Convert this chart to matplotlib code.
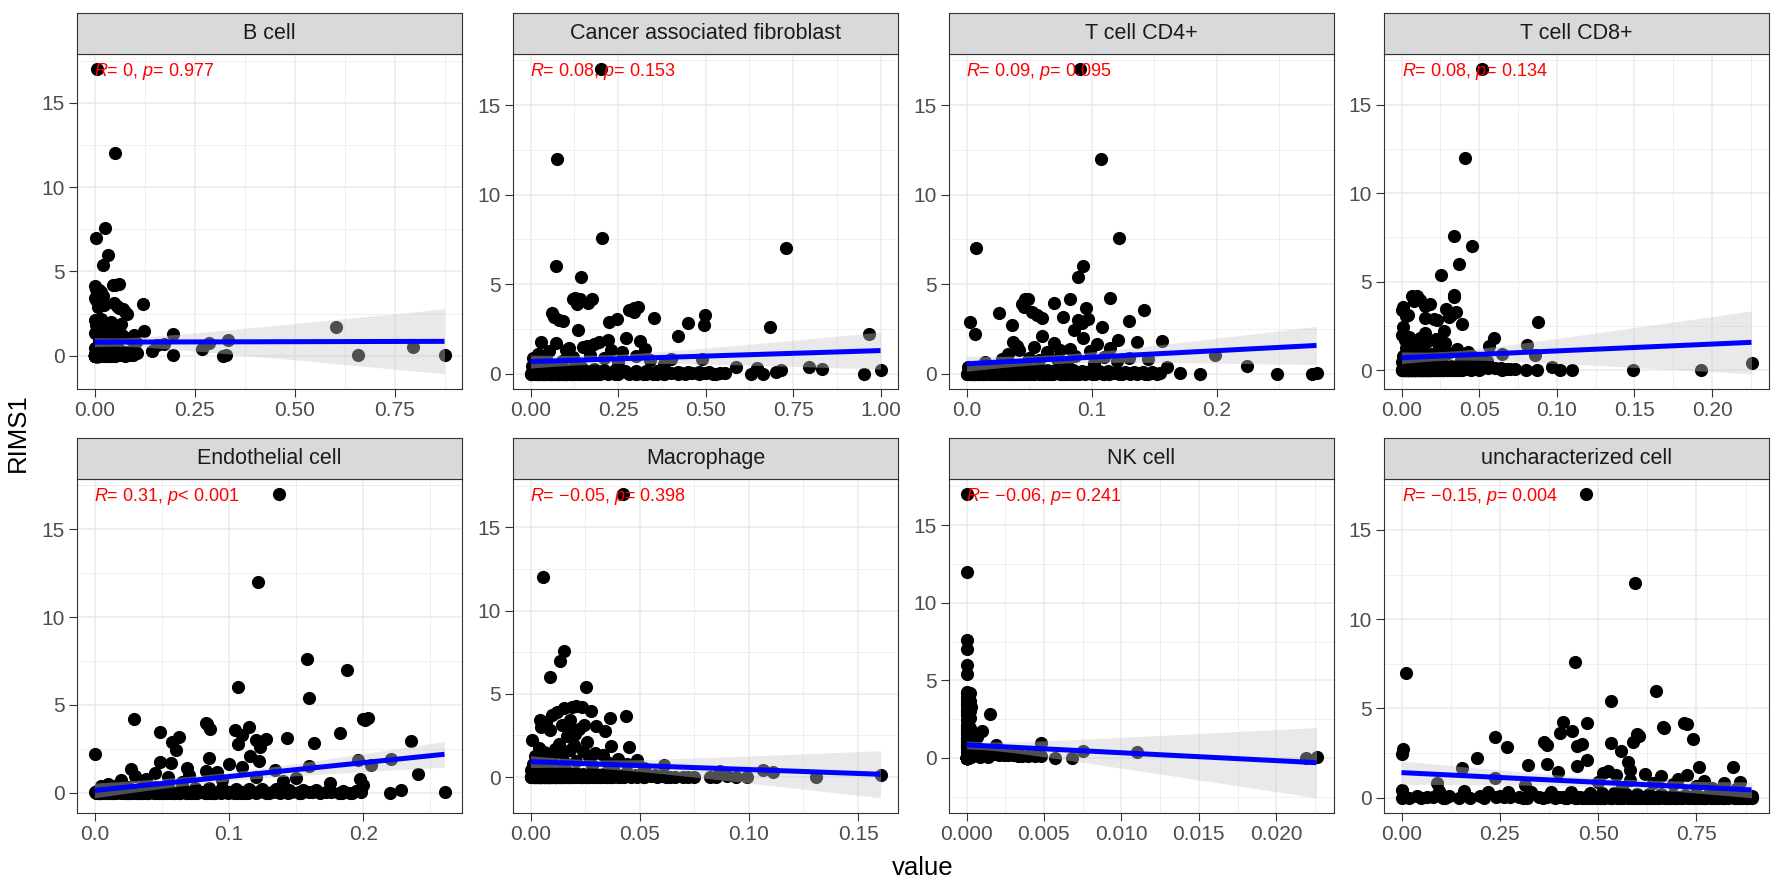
import numpy as np
import matplotlib
matplotlib.use("Agg")
import matplotlib.pyplot as plt
from matplotlib.ticker import FixedLocator, AutoMinorLocator, FixedFormatter

plt.rcParams['font.family'] = ['Liberation Sans', 'DejaVu Sans']
plt.rcParams['mathtext.fontset'] = 'custom'
plt.rcParams['mathtext.rm'] = 'Liberation Sans'
plt.rcParams['mathtext.it'] = 'Liberation Sans:italic'
plt.rcParams['mathtext.bf'] = 'Liberation Sans:bold'

# ---------------- data ----------------
cell_types = ["B cell", "Cancer associated fibroblast", "T cell CD4+", "T cell CD8+",
              "Endothelial cell", "Macrophage", "NK cell", "uncharacterized cell"]
r_labels = ["0", "0.08", "0.09", "0.08", "0.31", "\u22120.05", "\u22120.06", "\u22120.15"]
p_labels = ["= 0.977", "= 0.153", "= 0.095", "= 0.134", "< 0.001", "= 0.398", "= 0.241", "= 0.004"]
x_ticks = [[0, 0.25, 0.5, 0.75], [0, 0.25, 0.5, 0.75, 1.0], [0, 0.1, 0.2],
           [0, 0.05, 0.1, 0.15, 0.2], [0, 0.1, 0.2], [0, 0.05, 0.1, 0.15],
           [0, 0.005, 0.01, 0.015, 0.02], [0, 0.25, 0.5, 0.75]]
x_tick_labels = [["0.00", "0.25", "0.50", "0.75"], ["0.00", "0.25", "0.50", "0.75", "1.00"],
                 ["0.0", "0.1", "0.2"], ["0.00", "0.05", "0.10", "0.15", "0.20"],
                 ["0.0", "0.1", "0.2"], ["0.00", "0.05", "0.10", "0.15"],
                 ["0.000", "0.005", "0.010", "0.015", "0.020"], ["0.00", "0.25", "0.50", "0.75"]]
y_ticks = [0, 5, 10, 15]

# RIMS1 expression of each sample (same samples in every panel)
rims1 = [
    17.0, 12.0, 7.6, 7.0, 6.0, 5.4,
    4.25, 4.2, 4.2, 4.15, 3.95, 3.9, 3.75, 3.65, 3.55, 3.45, 3.4, 3.3,
    3.15, 3.1, 3.05, 3.0, 2.95, 2.9, 2.85, 2.75, 2.6, 2.45, 2.2, 2.1,
    2.0, 1.9, 1.85, 1.8, 1.75, 1.7, 1.65, 1.55, 1.5, 1.45, 1.4, 1.35, 1.3, 1.25, 1.2,
    1.1, 1.05, 1.0, 0.95, 0.9, 0.9, 0.85, 0.8, 0.8, 0.75, 0.7, 0.65, 0.6, 0.55, 0.5,
    0.45, 0.4, 0.4, 0.35, 0.35, 0.3, 0.3, 0.3, 0.25, 0.25, 0.25, 0.2, 0.2, 0.2, 0.2, 0.15, 0.15, 0.15, 0.15, 0.1,
    0.1, 0.1, 0.1, 0.1, 0.08, 0.08, 0.08, 0.06, 0.06, 0.06, 0.05, 0.05, 0.05, 0.04, 0.04, 0.04, 0.03, 0.03, 0.03, 0.02,
    0.02, 0.0, 0.01, 0.0, 0.05, 0.02, 0.0, 0.03, 0.01, 0.0, 0.04, 0.02, 0.0, 0.01, 0.03, 0.0, 0.02, 0.0, 0.01, 0.0,
    0.0, 0.03, 0.01, 0.0, 0.02, 0.0, 0.04, 0.01, 0.0, 0.02, 0.0, 0.01, 0.03, 0.0, 0.0, 0.02, 0.01, 0.0, 0.05, 0.0,
    0.01, 0.0, 0.02, 0.0, 0.0, 0.03, 0.01, 0.0, 0.02, 0.0, 0.04, 0.0, 0.01, 0.0, 0.02, 0.0, 0.0, 0.03, 0.01, 0.0,
    0.0, 0.02, 0.0, 0.01, 0.04, 0.0, 0.0, 0.02, 0.01, 0.0, 0.03, 0.0, 0.02, 0.0, 0.01, 0.0, 0.05, 0.0, 0.02, 0.0,
    0.03, 0.0, 0.01, 0.0, 0.02, 0.0, 0.0, 0.01, 0.04, 0.0, 0.02, 0.0, 0.01, 0.0, 0.03, 0.0, 0.0, 0.02, 0.0, 0.01,
    0.0, 0.01, 0.0, 0.02, 0.0, 0.03, 0.0, 0.0, 0.01, 0.0, 0.02, 0.0, 0.04, 0.0, 0.01, 0.0, 0.02, 0.0, 0.0, 0.03,
]

x_b_cell = [
    0.007, 0.050, 0.026, 0.003, 0.033, 0.021,
    0.062, 0.046, 0.052, 0.002, 0.004, 0.010, 0.015, 0.006, 0.020, 0.007, 0.001, 0.003,
    0.012, 0.048, 0.120, 0.023, 0.055, 0.009, 0.062, 0.070, 0.077, 0.081, 0.015, 0.001,
    0.040, 0.011, 0.065, 0.003, 0.030, 0.603, 0.019, 0.007, 0.034, 0.123, 0.043, 0.001, 0.195, 0.068, 0.098,
    0.014, 0.085, 0.056, 0.028, 0.333, 0.094, 0.012, 0.036, 0.104, 0.287, 0.173, 0.156, 0.057, 0.020, 0.796,
    0.002, 0.268, 0.010, 0.018, 0.026, 0.034, 0.042, 0.050, 0.144, 0.058, 0.066, 0.074, 0.082, 0.090, 0.098, 0.106, 0.005, 0.013, 0.021, 0.029,
    0.001, 0.003, 0.005, 0.007, 0.009, 0.011, 0.013, 0.015, 0.875, 0.017, 0.000, 0.002, 0.004, 0.006, 0.008, 0.010, 0.012, 0.014, 0.016, 0.018,
    0.003, 0.006, 0.009, 0.030, 0.045, 0.195, 0.320, 0.329, 0.659, 0.001, 0.002, 0.003, 0.004, 0.005, 0.006, 0.007, 0.008, 0.009, 0.010, 0.011,
    0.000, 0.001, 0.002, 0.003, 0.004, 0.005, 0.006, 0.007, 0.008, 0.009, 0.010, 0.000, 0.001, 0.002, 0.003, 0.004, 0.005, 0.006, 0.007, 0.008,
    0.009, 0.010, 0.000, 0.001, 0.002, 0.003, 0.004, 0.005, 0.006, 0.007, 0.008, 0.009, 0.010, 0.012, 0.015, 0.020, 0.025, 0.030, 0.035, 0.040,
    0.000, 0.001, 0.002, 0.003, 0.004, 0.005, 0.006, 0.007, 0.008, 0.009, 0.010, 0.000, 0.002, 0.004, 0.006, 0.008, 0.044, 0.048, 0.060, 0.075,
    0.000, 0.001, 0.002, 0.003, 0.004, 0.005, 0.006, 0.007, 0.008, 0.009, 0.000, 0.001, 0.003, 0.005, 0.007, 0.009, 0.014, 0.018, 0.022, 0.085,
    0.000, 0.001, 0.002, 0.003, 0.004, 0.005, 0.006, 0.007, 0.008, 0.009, 0.000, 0.002, 0.004, 0.006, 0.008, 0.010, 0.026, 0.032, 0.052, 0.095,
]

x_fibroblast = [
    0.201, 0.0765, 0.203, 0.730, 0.074, 0.143,
    0.128, 0.176, 0.120, 0.140, 0.165, 0.133, 0.307, 0.295, 0.281, 0.296, 0.060, 0.499,
    0.067, 0.352, 0.248, 0.080, 0.093, 0.223, 0.451, 0.497, 0.685, 0.135, 0.966, 0.420,
    0.274, 0.220, 0.313, 0.195, 0.031, 0.074, 0.180, 0.160, 0.149, 0.111, 0.327, 0.100, 0.230, 0.052, 0.260,
    0.020, 0.170, 0.300, 0.120, 0.008, 0.210, 0.400, 0.489, 0.045, 0.340, 0.090, 0.250, 0.015, 0.380, 0.140,
    0.005, 0.588, 0.796, 0.030, 0.060, 0.648, 0.090, 0.120, 0.832, 0.150, 0.180, 0.716, 0.210, 1.000, 0.240, 0.270, 0.300, 0.330, 0.360, 0.390,
    0.420, 0.450, 0.480, 0.510, 0.702, 0.005, 0.015, 0.025, 0.035, 0.045, 0.055, 0.065, 0.075, 0.085, 0.095, 0.105, 0.115, 0.125, 0.135, 0.145,
    0.555, 0.631, 0.664, 0.952, 0.460, 0.490, 0.520, 0.540, 0.000, 0.015, 0.025, 0.035, 0.045, 0.055, 0.065, 0.075, 0.085, 0.095, 0.105, 0.115,
    0.005, 0.015, 0.025, 0.035, 0.045, 0.055, 0.065, 0.075, 0.085, 0.095, 0.105, 0.115, 0.125, 0.135, 0.145, 0.155, 0.330, 0.380, 0.430, 0.480,
    0.300, 0.320, 0.340, 0.360, 0.380, 0.400, 0.440, 0.530, 0.020, 0.040, 0.060, 0.080, 0.100, 0.120, 0.140, 0.160, 0.180, 0.200, 0.220, 0.240,
    0.002, 0.012, 0.022, 0.032, 0.042, 0.052, 0.062, 0.072, 0.082, 0.092, 0.102, 0.112, 0.122, 0.132, 0.142, 0.152, 0.162, 0.172, 0.182, 0.192,
    0.008, 0.018, 0.028, 0.038, 0.048, 0.058, 0.068, 0.078, 0.088, 0.098, 0.108, 0.118, 0.128, 0.138, 0.148, 0.158, 0.168, 0.178, 0.188, 0.198,
    0.004, 0.012, 0.020, 0.028, 0.036, 0.044, 0.052, 0.060, 0.068, 0.076, 0.084, 0.092, 0.100, 0.250, 0.280, 0.420, 0.500, 0.300, 0.350, 0.450,
]

x_cd4 = [
    0.0909, 0.1075, 0.1221, 0.0072, 0.093, 0.089,
    0.1147, 0.0466, 0.0829, 0.0490, 0.0697, 0.0440, 0.0458, 0.0954, 0.142, 0.0525, 0.026, 0.0560,
    0.0768, 0.060, 0.0975, 0.0895, 0.130, 0.0026, 0.0920, 0.036, 0.1086, 0.0860, 0.0066, 0.0604,
    0.093, 0.121, 0.1566, 0.136, 0.0374, 0.0697, 0.104, 0.0400, 0.0538, 0.1150, 0.083, 0.0750, 0.0420, 0.0990, 0.0640,
    0.0330, 0.1987, 0.0870, 0.1100, 0.0500, 0.1300, 0.0280, 0.0720, 0.1450, 0.0580, 0.1200, 0.0150, 0.1020, 0.0800, 0.0450,
    0.224, 0.160, 0.001, 0.008, 0.015, 0.022, 0.029, 0.036, 0.043, 0.050, 0.057, 0.064, 0.071, 0.078, 0.085, 0.092, 0.099, 0.106, 0.113, 0.120,
    0.127, 0.134, 0.141, 0.148, 0.003, 0.010, 0.017, 0.024, 0.280, 0.031, 0.038, 0.045, 0.052, 0.059, 0.066, 0.073, 0.080, 0.087, 0.094, 0.101,
    0.171, 0.187, 0.248, 0.276, 0.108, 0.115, 0.122, 0.129, 0.136, 0.143, 0.150, 0.155, 0.000, 0.005, 0.012, 0.019, 0.026, 0.033, 0.040, 0.047,
    0.054, 0.061, 0.068, 0.075, 0.082, 0.089, 0.096, 0.103, 0.110, 0.117, 0.124, 0.131, 0.138, 0.145, 0.152, 0.002, 0.006, 0.011, 0.016, 0.021,
    0.025, 0.030, 0.035, 0.039, 0.044, 0.049, 0.053, 0.058, 0.063, 0.067, 0.072, 0.077, 0.081, 0.086, 0.091, 0.095, 0.100, 0.105, 0.109, 0.114,
    0.000, 0.004, 0.009, 0.013, 0.018, 0.023, 0.027, 0.032, 0.037, 0.041, 0.046, 0.051, 0.055, 0.060, 0.065, 0.069, 0.074, 0.079, 0.083, 0.088,
    0.001, 0.007, 0.014, 0.020, 0.028, 0.034, 0.042, 0.048, 0.056, 0.062, 0.070, 0.076, 0.084, 0.090, 0.002, 0.004, 0.006, 0.008, 0.010, 0.012,
    0.001, 0.003, 0.005, 0.007, 0.009, 0.011, 0.013, 0.015, 0.017, 0.019, 0.021, 0.023, 0.025, 0.027, 0.029, 0.031, 0.033, 0.035, 0.037, 0.039,
]

x_cd8 = [
    0.0521, 0.0406, 0.0335, 0.0453, 0.0372, 0.0254,
    0.0335, 0.0068, 0.0100, 0.0340, 0.0122, 0.0080, 0.0186, 0.0150, 0.0010, 0.0286, 0.0004, 0.0353,
    0.0040, 0.0320, 0.0026, 0.0303, 0.0154, 0.0207, 0.0230, 0.0876, 0.0389, 0.0010, 0.0271, 0.0154,
    0.0004, 0.0050, 0.0596, 0.0120, 0.0220, 0.0020, 0.0170, 0.0280, 0.0060, 0.0806, 0.0566, 0.0100, 0.0240, 0.0030, 0.0360,
    0.0140, 0.0430, 0.0070, 0.0300, 0.0650, 0.0190, 0.0859, 0.0453, 0.0010, 0.0260, 0.0500, 0.0110, 0.0380, 0.0050, 0.0550,
    0.000, 0.2254, 0.004, 0.008, 0.012, 0.016, 0.020, 0.024, 0.028, 0.032, 0.036, 0.0966, 0.040, 0.044, 0.048, 0.052, 0.056, 0.060, 0.064, 0.073,
    0.068, 0.002, 0.006, 0.010, 0.014, 0.018, 0.022, 0.026, 0.030, 0.034, 0.038, 0.042, 0.046, 0.050, 0.1019, 0.005, 0.009, 0.1494, 0.013, 0.017,
    0.1098, 0.087, 0.080, 0.1927, 0.070, 0.001, 0.003, 0.005, 0.007, 0.009, 0.011, 0.013, 0.015, 0.017, 0.019, 0.021, 0.023, 0.025, 0.027, 0.029,
    0.001, 0.002, 0.003, 0.004, 0.005, 0.006, 0.007, 0.008, 0.009, 0.010, 0.011, 0.012, 0.013, 0.014, 0.015, 0.016, 0.017, 0.018, 0.019, 0.020,
    0.000, 0.002, 0.004, 0.006, 0.008, 0.010, 0.012, 0.014, 0.016, 0.018, 0.020, 0.022, 0.024, 0.026, 0.028, 0.030, 0.032, 0.034, 0.036, 0.038,
    0.001, 0.003, 0.005, 0.007, 0.009, 0.011, 0.013, 0.015, 0.017, 0.019, 0.021, 0.023, 0.025, 0.027, 0.029, 0.031, 0.033, 0.035, 0.037, 0.039,
    0.000, 0.001, 0.003, 0.004, 0.006, 0.008, 0.010, 0.012, 0.015, 0.018, 0.021, 0.024, 0.027, 0.002, 0.005, 0.007, 0.009, 0.011, 0.013, 0.016,
    0.000, 0.002, 0.004, 0.006, 0.009, 0.012, 0.015, 0.019, 0.023, 0.027, 0.032, 0.001, 0.003, 0.005, 0.007, 0.010, 0.014, 0.018, 0.045, 0.065,
]

x_endothelial = [
    0.137, 0.1215, 0.158, 0.188, 0.107, 0.160,
    0.2037, 0.1995, 0.0296, 0.2010, 0.0827, 0.0835, 0.115, 0.086, 0.1044, 0.0489, 0.183, 0.1100,
    0.063, 0.143, 0.128, 0.120, 0.2353, 0.058, 0.1637, 0.107, 0.1235, 0.0605, 0.000, 0.116,
    0.085, 0.2205, 0.196, 0.1227, 0.0489, 0.0568, 0.100, 0.206, 0.160, 0.110, 0.069, 0.027, 0.1346, 0.0827, 0.091,
    0.045, 0.2407, 0.070, 0.030, 0.055, 0.120, 0.150, 0.1975, 0.038, 0.095, 0.020, 0.140, 0.065, 0.175, 0.010,
    0.200, 0.005, 0.015, 0.025, 0.035, 0.045, 0.055, 0.065, 0.075, 0.085, 0.095, 0.105, 0.115, 0.125, 0.135, 0.228, 0.145, 0.155, 0.165, 0.175,
    0.185, 0.195, 0.002, 0.012, 0.022, 0.032, 0.042, 0.052, 0.062, 0.072, 0.082, 0.092, 0.102, 0.112, 0.122, 0.132, 0.142, 0.152, 0.162, 0.172,
    0.2605, 0.220, 0.182, 0.192, 0.000, 0.008, 0.016, 0.024, 0.032, 0.040, 0.048, 0.056, 0.064, 0.072, 0.080, 0.088, 0.096, 0.104, 0.112, 0.120,
    0.128, 0.136, 0.144, 0.152, 0.160, 0.168, 0.176, 0.184, 0.190, 0.198, 0.004, 0.010, 0.018, 0.026, 0.034, 0.042, 0.050, 0.058, 0.066, 0.074,
    0.082, 0.090, 0.098, 0.106, 0.114, 0.122, 0.130, 0.138, 0.146, 0.154, 0.162, 0.004, 0.024, 0.048, 0.001, 0.007, 0.013, 0.019, 0.028, 0.036,
    0.044, 0.053, 0.060, 0.068, 0.077, 0.086, 0.094, 0.101, 0.109, 0.005, 0.015, 0.025, 0.035, 0.045, 0.052, 0.003, 0.011, 0.020, 0.030, 0.038,
    0.046, 0.054, 0.063, 0.071, 0.079, 0.087, 0.002, 0.012, 0.021, 0.031, 0.006, 0.014, 0.023, 0.033, 0.041, 0.049, 0.057, 0.067, 0.076, 0.084,
    0.003, 0.008, 0.013, 0.018, 0.023, 0.029, 0.034, 0.040, 0.001, 0.009, 0.017, 0.027, 0.037, 0.047, 0.059, 0.069, 0.078, 0.089, 0.099, 0.110,
]

x_macrophage = [
    0.0423, 0.0059, 0.0155, 0.0135, 0.0088, 0.0255,
    0.0210, 0.0236, 0.0190, 0.0152, 0.0277, 0.0120, 0.0099, 0.0436, 0.0362, 0.0043, 0.0182, 0.0070,
    0.0144, 0.0243, 0.0300, 0.0046, 0.0170, 0.0220, 0.0091, 0.0342, 0.0205, 0.0167, 0.0008, 0.0258,
    0.0130, 0.0200, 0.0369, 0.0453, 0.0038, 0.0110, 0.0180, 0.0240, 0.0060, 0.0296, 0.0150, 0.0091, 0.0330, 0.0020, 0.0270,
    0.0400, 0.0100, 0.0486, 0.0210, 0.0050, 0.0350, 0.0160, 0.0440, 0.0010, 0.0280, 0.0610, 0.0080, 0.0380, 0.0520, 0.0140,
    0.1064, 0.000, 0.003, 0.006, 0.0866, 0.009, 0.1112, 0.012, 0.015, 0.018, 0.021, 0.024, 0.027, 0.030, 0.033, 0.036, 0.039, 0.042, 0.045, 0.1603,
    0.048, 0.051, 0.054, 0.057, 0.060, 0.001, 0.004, 0.007, 0.010, 0.013, 0.016, 0.019, 0.022, 0.025, 0.028, 0.031, 0.034, 0.037, 0.040, 0.043,
    0.0992, 0.1307, 0.075, 0.082, 0.090, 0.066, 0.070, 0.046, 0.049, 0.052, 0.055, 0.058, 0.062, 0.002, 0.005, 0.008, 0.011, 0.014, 0.017, 0.020,
    0.023, 0.026, 0.029, 0.032, 0.035, 0.038, 0.001, 0.003, 0.005, 0.007, 0.009, 0.011, 0.013, 0.000, 0.002, 0.004, 0.006, 0.008, 0.010, 0.012,
    0.014, 0.016, 0.018, 0.020, 0.022, 0.024, 0.026, 0.028, 0.030, 0.032, 0.001, 0.002, 0.003, 0.004, 0.005, 0.006, 0.007, 0.008, 0.009, 0.010,
    0.000, 0.001, 0.003, 0.005, 0.007, 0.009, 0.011, 0.013, 0.015, 0.017, 0.019, 0.021, 0.023, 0.025, 0.027, 0.029, 0.031, 0.033, 0.035, 0.037,
    0.002, 0.003, 0.005, 0.006, 0.007, 0.009, 0.010, 0.011, 0.013, 0.014, 0.016, 0.018, 0.064, 0.072, 0.085, 0.001, 0.004, 0.008, 0.012, 0.016,
    0.000, 0.002, 0.005, 0.008, 0.011, 0.015, 0.019, 0.023, 0.027, 0.031, 0.036, 0.041, 0.046, 0.052, 0.004, 0.006, 0.009, 0.013, 0.017, 0.094,
]

x_nk = [
    0, 0, 0, 0, 0, 0,
    0.0000, 0.0001, 0.0000, 0.0002, 0.0000, 0.0001, 0.0000, 0.0002, 0.0000, 0.0001, 0.0000, 0.0003,
    0.0000, 0.0001, 0.0000, 0.0002, 0.0000, 0.0001, 0.0015, 0.0000, 0.0002, 0.0000, 0.0001, 0.0000,
    0.0000, 0.0002, 0.0000, 0.0001, 0.0010, 0.0000, 0.0003, 0.0000, 0.0001, 0.0000, 0.0002, 0.0007, 0.0000, 0.0001, 0.0000,
    0.0003, 0.0000, 0.0002, 0.0048, 0.0000, 0.0001, 0.0004, 0.0019, 0.0000, 0.0002, 0.0000, 0.0006, 0.0000, 0.0009, 0.0012,
    0.0075, 0.0110, 0.0000, 0.0002, 0.0004, 0.0006, 0.0008, 0.0010, 0.0012, 0.0015, 0.0018, 0.0021, 0.0024, 0.0027, 0.0030, 0.0033, 0.0036, 0.0040, 0.0044, 0.0048,
    0, 0, 0, 0, 0, 0, 0, 0, 0.0226, 0, 0.0003, 0, 0.0009, 0, 0.0014, 0, 0, 0, 0, 0.0219,
    0.0057, 0.0068, 0, 0, 0, 0, 0, 0, 0, 0, 0, 0, 0, 0, 0, 0, 0, 0, 0, 0,
    0, 0, 0, 0, 0, 0, 0, 0, 0, 0, 0, 0, 0, 0, 0, 0, 0, 0, 0, 0,
    0, 0, 0, 0, 0, 0, 0, 0, 0, 0, 0, 0, 0, 0, 0, 0, 0, 0, 0, 0,
    0, 0, 0, 0, 0, 0, 0, 0, 0, 0, 0, 0, 0, 0, 0, 0, 0, 0, 0, 0,
    0, 0, 0, 0, 0, 0, 0, 0, 0, 0, 0, 0, 0, 0, 0, 0, 0, 0, 0, 0,
    0, 0, 0, 0, 0, 0, 0, 0, 0, 0, 0, 0, 0, 0, 0, 0, 0, 0, 0, 0,
]

x_uncharacterized = [
    0.469, 0.595, 0.442, 0.0127, 0.646, 0.532,
    0.411, 0.472, 0.719, 0.725, 0.665, 0.668, 0.434, 0.404, 0.600, 0.603, 0.239, 0.740,
    0.362, 0.589, 0.532, 0.459, 0.369, 0.447, 0.267, 0.004, 0.557, 0.000, 0.193, 0.472,
    0.576, 0.369, 0.321, 0.447, 0.757, 0.843, 0.155, 0.582, 0.525, 0.398, 0.513, 0.620, 0.725, 0.545, 0.660,
    0.237, 0.703, 0.580, 0.770, 0.860, 0.500, 0.0915, 0.640, 0.820, 0.690, 0.314, 0.750, 0.560, 0.790, 0.850,
    0.000, 0.095, 0.160, 0.220, 0.270, 0.330, 0.380, 0.430, 0.480, 0.510, 0.540, 0.570, 0.600, 0.630, 0.660, 0.690, 0.720, 0.750, 0.780, 0.810,
    0.840, 0.870, 0.890, 0.040, 0.120, 0.200, 0.250, 0.300, 0.350, 0.400, 0.450, 0.490, 0.520, 0.550, 0.580, 0.610, 0.640, 0.670, 0.700, 0.730,
    0.760, 0.790, 0.820, 0.850, 0.880, 0.010, 0.050, 0.080, 0.145, 0.175, 0.240, 0.275, 0.310, 0.360, 0.410, 0.460, 0.500, 0.530, 0.560, 0.590,
    0.620, 0.650, 0.680, 0.710, 0.740, 0.770, 0.800, 0.830, 0.860, 0.885, 0.465, 0.495, 0.525, 0.555, 0.585, 0.615, 0.645, 0.675, 0.705, 0.735,
    0.765, 0.795, 0.825, 0.855, 0.880, 0.470, 0.505, 0.535, 0.565, 0.595, 0.625, 0.655, 0.685, 0.715, 0.745, 0.775, 0.805, 0.835, 0.865, 0.440,
    0.000, 0.065, 0.105, 0.700, 0.750, 0.800, 0.850, 0.870, 0.390, 0.420, 0.475, 0.515, 0.545, 0.575, 0.605, 0.635, 0.665, 0.695, 0.725, 0.755,
    0.785, 0.815, 0.845, 0.875, 0.455, 0.485, 0.515, 0.548, 0.578, 0.608, 0.638, 0.668, 0.698, 0.728, 0.758, 0.788, 0.818, 0.848, 0.878, 0.890,
    0.020, 0.110, 0.210, 0.260, 0.320, 0.370, 0.415, 0.445, 0.475, 0.505, 0.535, 0.563, 0.593, 0.623, 0.653, 0.683, 0.713, 0.743, 0.773, 0.803,
]

panel_x = [x_b_cell, x_fibroblast, x_cd4, x_cd8, x_endothelial, x_macrophage, x_nk, x_uncharacterized]
for name, xs_ in zip(cell_types, panel_x):
    if len(xs_) != len(rims1):
        raise ValueError(f"{name}: {len(xs_)} vs {len(rims1)}")

# ---------------- helpers ----------------
T975 = 1.971  # t quantile (0.975, df = n - 2)


def lm_band(x, y, xs):
    n = len(x)
    xb, yb = x.mean(), y.mean()
    sxx = ((x - xb) ** 2).sum()
    b = ((x - xb) * (y - yb)).sum() / sxx
    a = yb - b * xb
    s = np.sqrt(((y - (a + b * x)) ** 2).sum() / (n - 2))
    fit = a + b * xs
    se = s * np.sqrt(1.0 / n + (xs - xb) ** 2 / sxx)
    return fit, fit - T975 * se, fit + T975 * se


# ---------------- layout ----------------
W, H = 1777, 885
fig = plt.figure(figsize=(W / 100, H / 100), dpi=100)
lefts = [77, 513, 949, 1384]
pw = 385
rows = [(54, 389, 13), (479, 813, 438)]  # plot top, plot bottom, strip top (px)

border = '#333333'
grid_c = '#EBEBEB'
y = np.array(rims1, dtype=float)

for i, name in enumerate(cell_types):
    r, c = divmod(i, 4)
    top, bot, stop = rows[r]
    ax = fig.add_axes([lefts[c] / W, 1 - bot / H, pw / W, (bot - top) / H])
    sax = fig.add_axes([lefts[c] / W, 1 - top / H, pw / W, (top - stop) / H])

    x = np.array(panel_x[i], dtype=float)
    xs = np.linspace(x.min(), x.max(), 80)
    fit, lo, hi = lm_band(x, y, xs)

    ax.scatter(x, y, s=90, color='black', linewidths=0, zorder=2)
    ax.fill_between(xs, lo, hi, color='#C8C8C8', alpha=0.4, linewidth=0, zorder=3)
    ax.plot(xs, fit, color='blue', lw=3.6, zorder=4, solid_capstyle='butt')

    dx = x.max() - x.min()
    ax.set_xlim(x.min() - 0.05 * dx, x.max() + 0.05 * dx)
    ylo = min(y.min(), lo.min())
    yhi = max(y.max(), hi.max())
    dy = yhi - ylo
    ax.set_ylim(ylo - 0.05 * dy, yhi + 0.05 * dy)

    ax.text(x.min(), y.max() - 0.15,
            r"$\mathit{R}$= " + r_labels[i] + r", $\mathit{p}$" + p_labels[i],
            color='red', fontsize=13, ha='left', va='center', zorder=6)

    ax.xaxis.set_major_locator(FixedLocator(x_ticks[i]))
    ax.xaxis.set_major_formatter(FixedFormatter(x_tick_labels[i]))
    ax.xaxis.set_minor_locator(AutoMinorLocator(2))
    ax.yaxis.set_major_locator(FixedLocator(y_ticks))
    ax.yaxis.set_minor_locator(AutoMinorLocator(2))
    ax.set_axisbelow(True)
    ax.grid(which='major', color=grid_c, lw=1.1)
    ax.grid(which='minor', color=grid_c, lw=0.55)
    ax.tick_params(which='major', length=5.5, width=0.8, color=border,
                   labelsize=15, labelcolor='#4D4D4D', pad=3.5)
    ax.tick_params(which='minor', length=0)
    for sp in ax.spines.values():
        sp.set_color(border)
        sp.set_linewidth(0.8)
    ax.set_facecolor('white')

    sax.set_facecolor('#D9D9D9')
    sax.set_xticks([])
    sax.set_yticks([])
    for sp in sax.spines.values():
        sp.set_color(border)
        sp.set_linewidth(0.8)
    sax.text(0.5, 0.5, name, ha='center', va='center', fontsize=15.5,
             color='#1A1A1A', transform=sax.transAxes)

fig.text(18 / W, 1 - 433 / H, "RIMS1", rotation=90, ha='center', va='center', fontsize=18.5)
fig.text(923 / W, 1 - 868 / H, "value", ha='center', va='center', fontsize=18.5)

fig.savefig("out.png", dpi=100, facecolor='white')
